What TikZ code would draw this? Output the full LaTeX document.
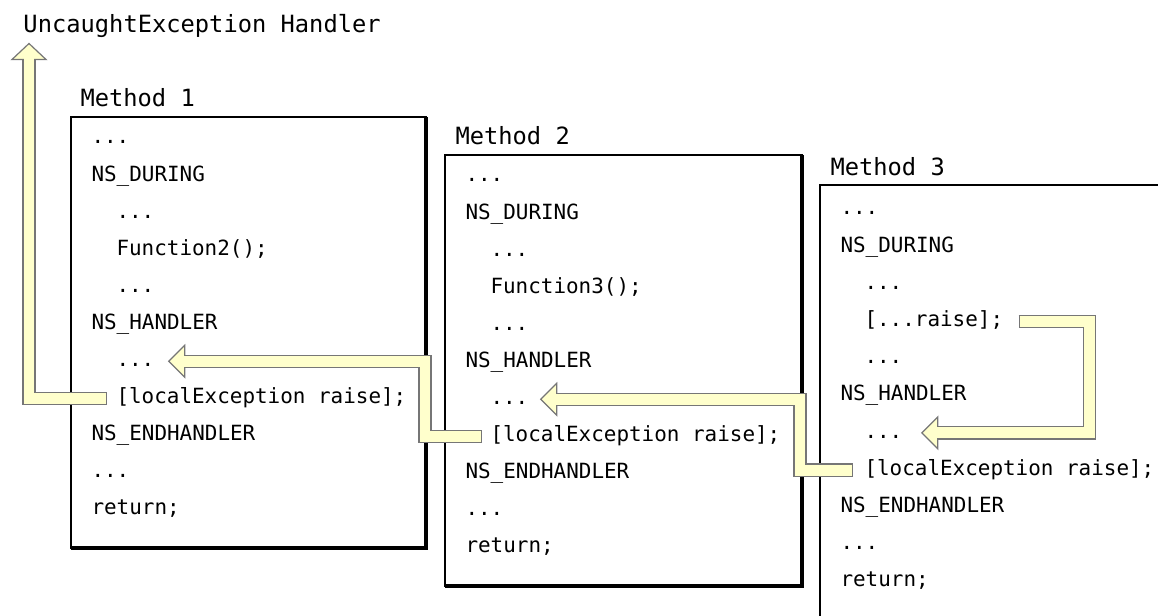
\documentclass[tikz,border=0pt]{standalone}
\usepackage{fontspec}
\setmonofont{DejaVu Sans Mono}
\usetikzlibrary{calc}

\definecolor{arrowfill}{RGB}{255,255,204}
\definecolor{arrowline}{RGB}{118,118,118}

\tikzset{every picture/.style={line width=0.75pt}}

\begin{document}
\begin{tikzpicture}[x=0.75pt,y=0.75pt,yscale=-1,xscale=1,
  code/.style={anchor=base west, inner sep=0pt, text height=11pt, text depth=3pt, font=\ttfamily\fontsize{15.7}{18}\selectfont},
  heading/.style={code, font=\ttfamily\fontsize{17.8}{20}\selectfont},
  methodbox/.style={draw=black, line width=1.1pt},
  boxshadow/.style={draw=black, line width=2.6pt},
  band/.style={draw=arrowline, line width=10pt},
  bandfill/.style={draw=arrowfill, line width=8.2pt, shorten <=0.9pt},
  blockhead/.style={draw=arrowline, fill=arrowfill, line width=0.9pt}]
\useasboundingbox (0,0) rectangle (1158,616);
\clip (0,0) rectangle (1158,616);

%Boxes
\coordinate (m1nw) at (71,117);
\coordinate (m1se) at (426,548);
\coordinate (m2nw) at (445,155);
\coordinate (m2se) at (802,586);
\coordinate (m3nw) at (820,185);
\coordinate (m3se) at (1176,621);

\draw [methodbox] (m1nw) rectangle (m1se) ;
\draw [boxshadow] (m1nw -| m1se) -- (m1se) -- (m1nw |- m1se) ;
\draw [methodbox] (m2nw) rectangle (m2se) ;
\draw [boxshadow] (m2nw -| m2se) -- (m2se) -- (m2nw |- m2se) ;
\draw [methodbox] (m3nw) rectangle (m3se) ;
\draw [boxshadow] (m3nw -| m3se) -- (m3se) -- (m3nw |- m3se) ;

% Text Node
\node [heading] (title) at (23,33) {UncaughtException Handler};
% Text Node
\node [heading] (lab1) at (80,107) {Method 1};
% Text Node
\node [heading] (lab2) at (455,145) {Method 2};
% Text Node
\node [heading] (lab3) at (830,176) {Method 3};

% Method 1
\node [code] (m1l0) at (91,144) {...};
\node [code] (m1l1) at (91,181.1) {NS\_DURING};
\node [code] (m1l2) at (116,218.2) {...};
\node [code] (m1l3) at (116,255.3) {Function2();};
\node [code] (m1l4) at (116,292.4) {...};
\node [code] (m1l5) at (91,329.5) {NS\_HANDLER};
\node [code] (m1l6) at (116,366.6) {...};
\node [code] (m1l7) at (116,403.7) {[localException raise];};
\node [code] (m1l8) at (91,440.8) {NS\_ENDHANDLER};
\node [code] (m1l9) at (91,477.9) {...};
\node [code] (m1l10) at (91,515) {return;};

% Method 2
\node [code] (m2l0) at (465,182) {...};
\node [code] (m2l1) at (465,219.1) {NS\_DURING};
\node [code] (m2l2) at (490,256.2) {...};
\node [code] (m2l3) at (490,293.3) {Function3();};
\node [code] (m2l4) at (490,330.4) {...};
\node [code] (m2l5) at (465,367.5) {NS\_HANDLER};
\node [code] (m2l6) at (490,404.6) {...};
\node [code] (m2l7) at (490,441.7) {[localException raise];};
\node [code] (m2l8) at (465,478.8) {NS\_ENDHANDLER};
\node [code] (m2l9) at (465,515.9) {...};
\node [code] (m2l10) at (465,553) {return;};

% Method 3
\node [code] (m3l0) at (840,215) {...};
\node [code] (m3l1) at (840,252.2) {NS\_DURING};
\node [code] (m3l2) at (864,289.4) {...};
\node [code] (m3l3) at (864,326.6) {[...raise];};
\node [code] (m3l4) at (864,363.8) {...};
\node [code] (m3l5) at (840,401) {NS\_HANDLER};
\node [code] (m3l6) at (864,438.2) {...};
\node [code] (m3l7) at (864,475.4) {[localException raise];};
\node [code] (m3l8) at (840,512.6) {NS\_ENDHANDLER};
\node [code] (m3l9) at (840,549.8) {...};
\node [code] (m3l10) at (840,587) {return;};

%Block Arrow: method 1 raise -> handler
\coordinate (a1t) at ($(m1l7.west)+(-9,0)$);
\coordinate (a1p) at ($(title.south west)+(6,6)$);
\draw [band] (a1t) -| ($(a1p)+(0,16)$) ;
\draw [blockhead] (a1p) -- ++(17,16) -- ++(-34,0) -- cycle ;
\draw [bandfill] (a1t) -| ($(a1p)+(0,14)$) ;

%Block Arrow: method 2 raise -> method 1 handler
\coordinate (a2t) at ($(m2l7.west)+(-8,0)$);
\coordinate (a2p) at ($(m1l6.east)+(14,0)$);
\coordinate (a2c) at ($(m1se)+(-1,0)$);
\draw [band] (a2t) -- (a2t -| a2c) -- (a2c |- a2p) -- ($(a2p)+(16,0)$) ;
\draw [blockhead] (a2p) -- ++(16,-16) -- ++(0,32) -- cycle ;
\draw [bandfill] (a2t) -- (a2t -| a2c) -- (a2c |- a2p) -- ($(a2p)+(14,0)$) ;

%Block Arrow: method 3 raise -> method 2 handler
\coordinate (a3t) at ($(m3l7.west)+(-11,0)$);
\coordinate (a3p) at ($(m2l6.east)+(12,0)$);
\coordinate (a3c) at ($(m2se)+(-2,0)$);
\draw [band] (a3t) -- (a3t -| a3c) -- (a3c |- a3p) -- ($(a3p)+(16,0)$) ;
\draw [blockhead] (a3p) -- ++(16,-16) -- ++(0,32) -- cycle ;
\draw [bandfill] (a3t) -- (a3t -| a3c) -- (a3c |- a3p) -- ($(a3p)+(14,0)$) ;

%Block Arrow: method 3 inner raise -> handler
\coordinate (a4t) at ($(m3l3.east)+(15,0)$);
\coordinate (a4p) at ($(m3l6.east)+(19,0)$);
\coordinate (a4c) at ($(m3l3.east)+(86,0)$);
\draw [band] (a4t) -- (a4t -| a4c) -- (a4c |- a4p) -- ($(a4p)+(16,0)$) ;
\draw [blockhead] (a4p) -- ++(16,-16) -- ++(0,32) -- cycle ;
\draw [bandfill] (a4t) -- (a4t -| a4c) -- (a4c |- a4p) -- ($(a4p)+(14,0)$) ;

\end{tikzpicture}
\end{document}
